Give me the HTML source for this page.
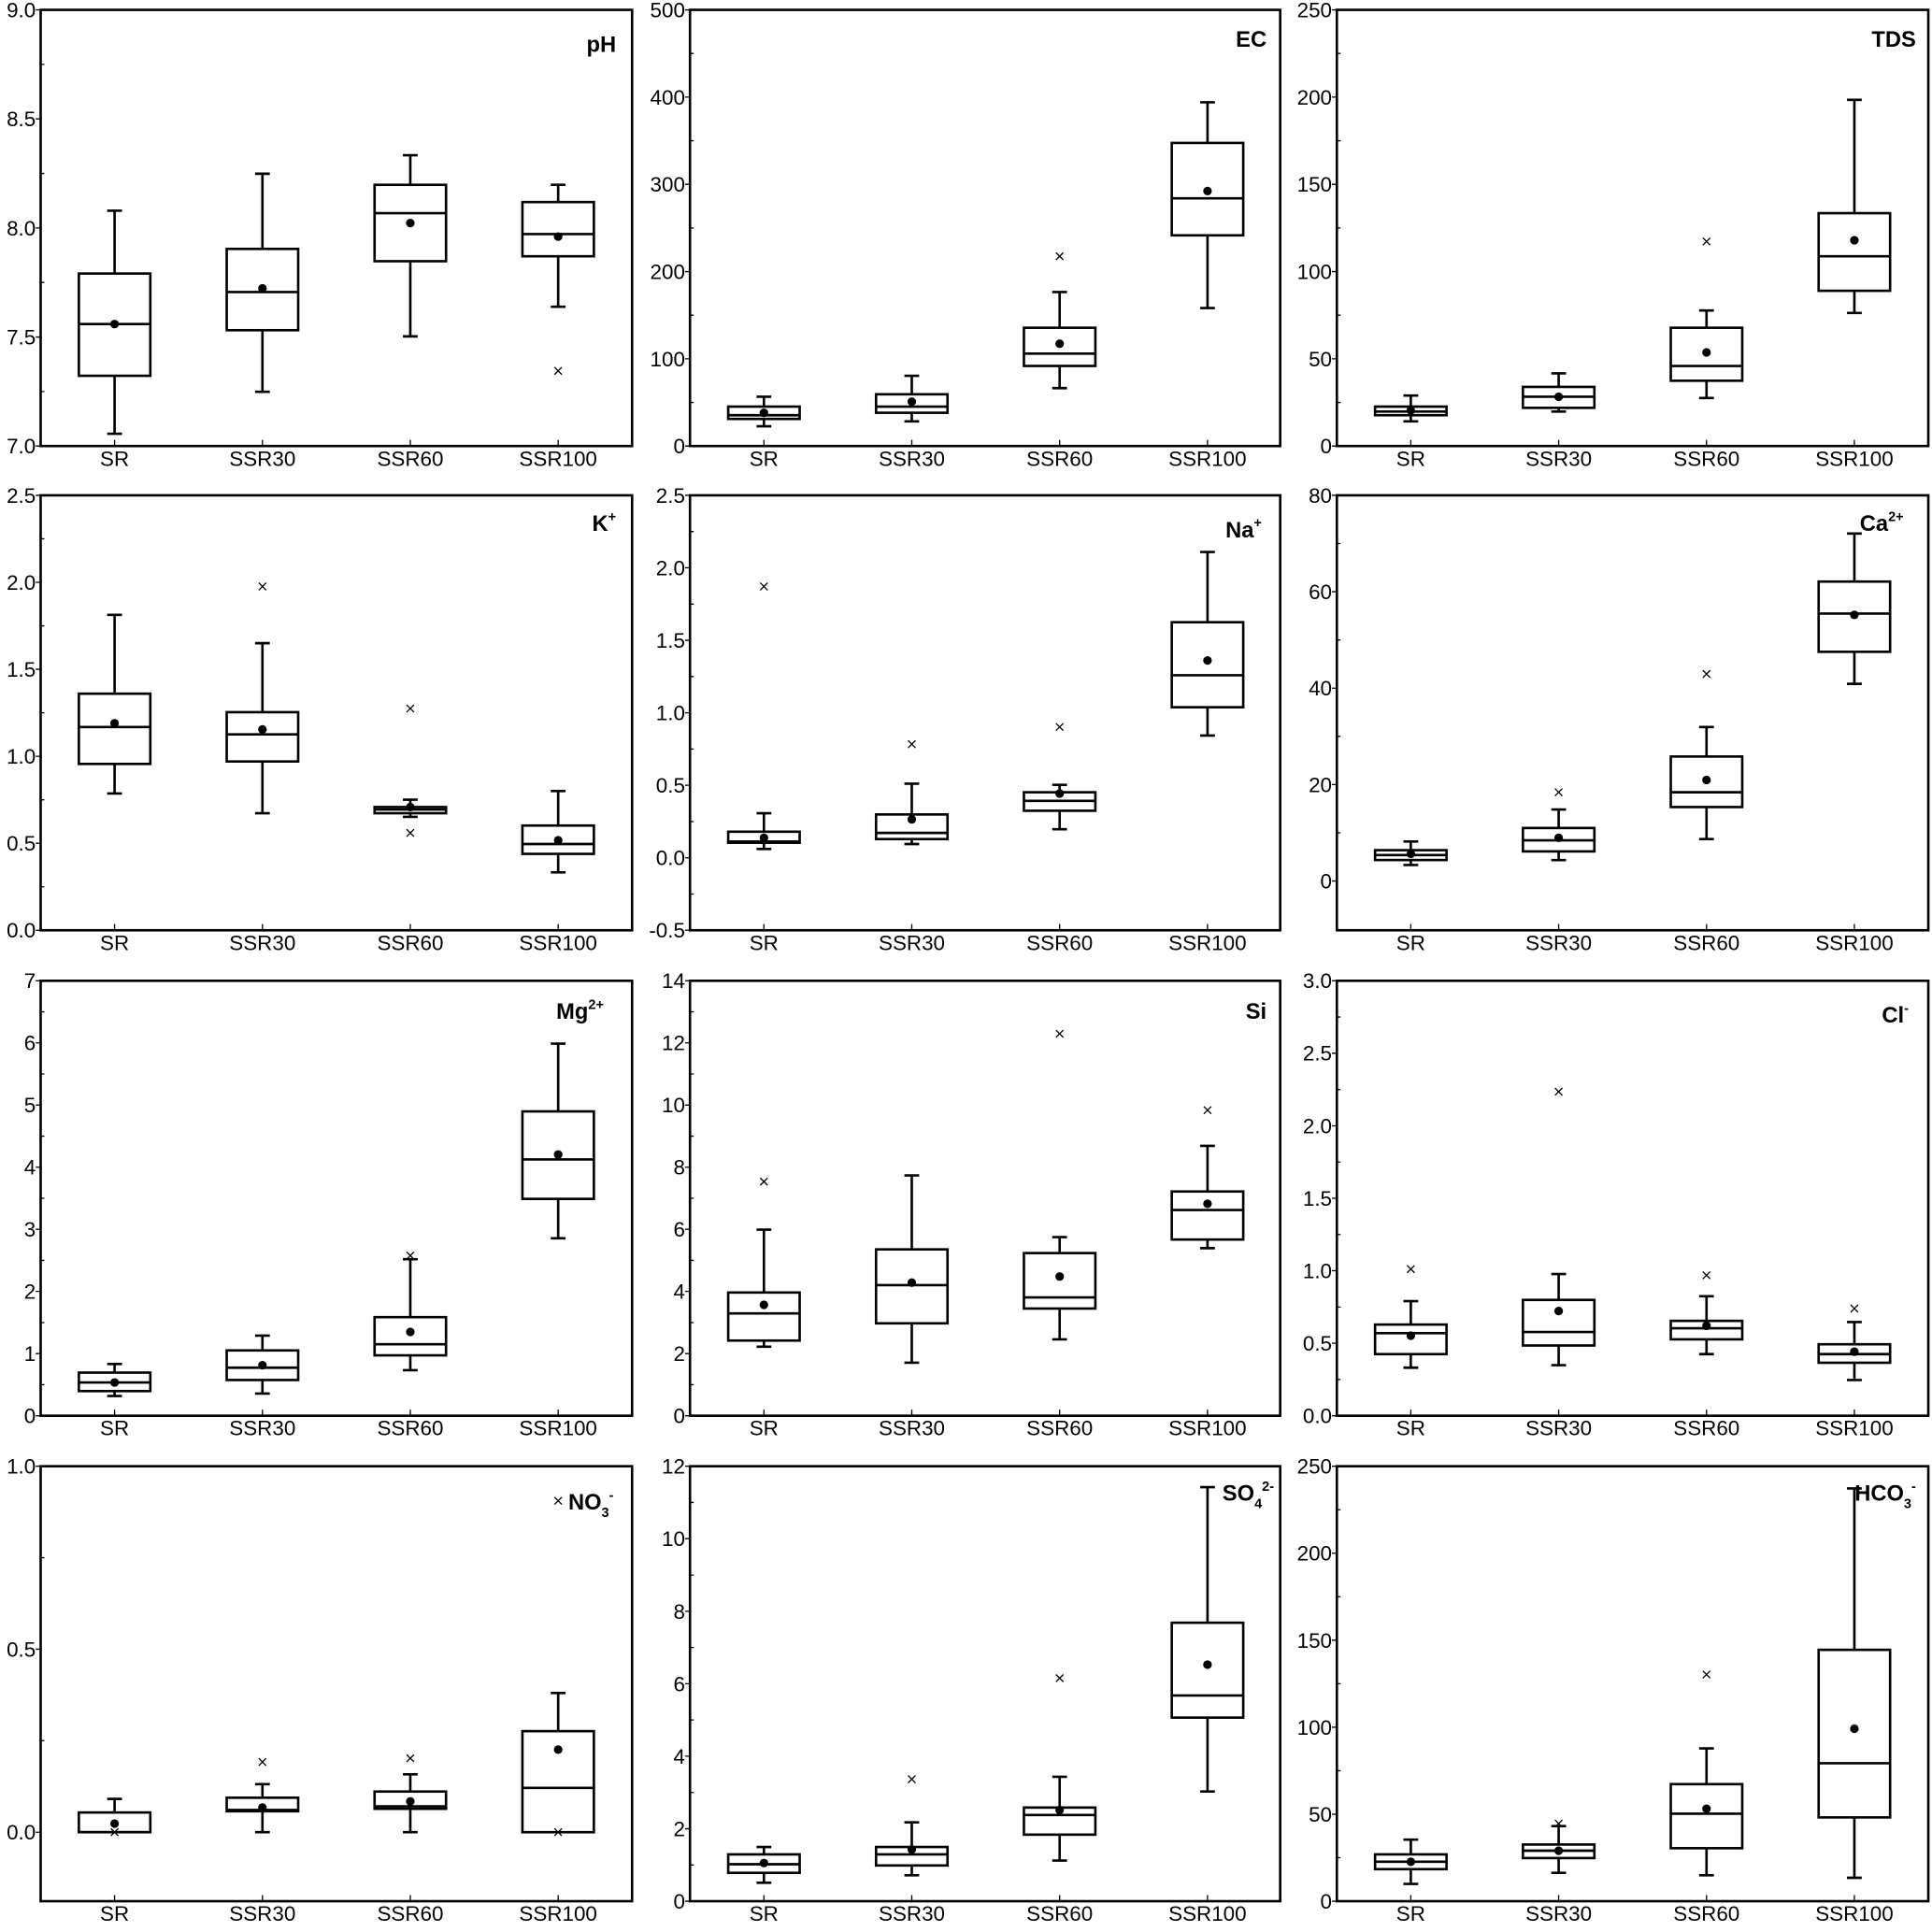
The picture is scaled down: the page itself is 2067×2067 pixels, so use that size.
<!DOCTYPE html>
<html><head><meta charset="utf-8"><style>
html,body{margin:0;padding:0;background:#fff;}
svg{display:block;}
text{font-family:"Liberation Sans",Arial,sans-serif;fill:#000;}
.t{font-size:17px;text-anchor:end;}
.c{font-size:17px;text-anchor:middle;}
.h{font-size:18px;font-weight:bold;text-anchor:end;}
.f{fill:none;stroke:#000;stroke-width:2;}
.b{fill:none;stroke:#000;stroke-width:2;}
.o{stroke:#000;stroke-width:1;fill:none;}
</style></head><body>
<svg width="2067" height="2067" viewBox="0 0 1568 1568" xmlns="http://www.w3.org/2000/svg">
<rect width="1568" height="1568" fill="#fff"/>

<!-- ROW 1 -->
<g transform="translate(33,0)">
<rect class="f" x="0" y="8" width="480" height="354"/>
<path class="o" d="M0 362h-4M0 273.5h-4M0 185h-4M0 96.5h-4M0 8h-4M0 317.75h3M0 229.25h3M0 140.75h3M0 52.25h3M60 362v-5M180 362v-5M300 362v-5M420 362v-5"/>
<text class="t" x="-4" y="368">7.0</text><text class="t" x="-4" y="279.5">7.5</text><text class="t" x="-4" y="191">8.0</text><text class="t" x="-4" y="102.5">8.5</text><text class="t" x="-4" y="14">9.0</text>
<text class="c" x="60" y="378">SR</text><text class="c" x="180" y="378">SSR30</text><text class="c" x="300" y="378">SSR60</text><text class="c" x="420" y="378">SSR100</text>
<text class="h" x="467" y="42">pH</text>
<path class="b" d="M60 352V305M60 222V171M54 352h12M54 171h12M31 263h58 M180 318V268M180 202V141M174 318h12M174 141h12M151 237h58 M300 273V212M300 150V126M294 273h12M294 126h12M271 173h58 M420 249V208M420 164V150M414 249h12M414 150h12M391 190h58"/>
<rect class="b" x="31" y="222" width="58" height="83"/><rect class="b" x="151" y="202" width="58" height="66"/><rect class="b" x="271" y="150" width="58" height="62"/><rect class="b" x="391" y="164" width="58" height="44"/>
<circle cx="60" cy="263" r="3.5"/><circle cx="180" cy="234" r="3.5"/><circle cx="300" cy="181" r="3.5"/><circle cx="420" cy="192" r="3.5"/>
<path class="o" d="M417 298l6 6M423 298l-6 6"/>
</g>

<g transform="translate(560,0)">
<rect class="f" x="0" y="8" width="479" height="354"/>
<path class="o" d="M0 362h-4M0 291.2h-4M0 220.4h-4M0 149.6h-4M0 78.8h-4M0 8h-4M0 326.6h3M0 255.8h3M0 185h3M0 114.2h3M0 43.4h3M60 362v-5M180 362v-5M300 362v-5M420 362v-5"/>
<text class="t" x="-4" y="368">0</text><text class="t" x="-4" y="297.2">100</text><text class="t" x="-4" y="226.4">200</text><text class="t" x="-4" y="155.6">300</text><text class="t" x="-4" y="84.8">400</text><text class="t" x="-4" y="14">500</text>
<text class="c" x="60" y="378">SR</text><text class="c" x="180" y="378">SSR30</text><text class="c" x="300" y="378">SSR60</text><text class="c" x="420" y="378">SSR100</text>
<text class="h" x="468" y="38">EC</text>
<path class="b" d="M60 346V340M60 330V322M54 346h12M54 322h12M31 337h58 M180 342V335M180 320V305M174 342h12M174 305h12M151 330h58 M300 315V297M300 266V237M294 315h12M294 237h12M271 287h58 M420 250V191M420 116V83M414 250h12M414 83h12M391 161h58"/>
<rect class="b" x="31" y="330" width="58" height="10"/><rect class="b" x="151" y="320" width="58" height="15"/><rect class="b" x="271" y="266" width="58" height="31"/><rect class="b" x="391" y="116" width="58" height="75"/>
<circle cx="60" cy="335" r="3.5"/><circle cx="180" cy="326" r="3.5"/><circle cx="300" cy="279" r="3.5"/><circle cx="420" cy="155" r="3.5"/>
<path class="o" d="M297 205l6 6M303 205l-6 6"/>
</g>

<g transform="translate(1085,0)">
<rect class="f" x="0" y="8" width="480" height="354"/>
<path class="o" d="M0 362h-4M0 291.2h-4M0 220.4h-4M0 149.6h-4M0 78.8h-4M0 8h-4M0 326.6h3M0 255.8h3M0 185h3M0 114.2h3M0 43.4h3M60 362v-5M180 362v-5M300 362v-5M420 362v-5"/>
<text class="t" x="-4" y="368">0</text><text class="t" x="-4" y="297.2">50</text><text class="t" x="-4" y="226.4">100</text><text class="t" x="-4" y="155.6">150</text><text class="t" x="-4" y="84.8">200</text><text class="t" x="-4" y="14">250</text>
<text class="c" x="60" y="378">SR</text><text class="c" x="180" y="378">SSR30</text><text class="c" x="300" y="378">SSR60</text><text class="c" x="420" y="378">SSR100</text>
<text class="h" x="470" y="38">TDS</text>
<path class="b" d="M60 342V337M60 330V321M54 342h12M54 321h12M31 334h58 M180 334V331M180 314V303M174 334h12M174 303h12M151 322h58 M300 323V309M300 266V252M294 323h12M294 252h12M271 297h58 M420 254V236M420 173V81M414 254h12M414 81h12M391 208h58"/>
<rect class="b" x="31" y="330" width="58" height="7"/><rect class="b" x="151" y="314" width="58" height="17"/><rect class="b" x="271" y="266" width="58" height="43"/><rect class="b" x="391" y="173" width="58" height="63"/>
<circle cx="60" cy="333" r="3.5"/><circle cx="180" cy="322" r="3.5"/><circle cx="300" cy="286" r="3.5"/><circle cx="420" cy="195" r="3.5"/>
<path class="o" d="M297 193l6 6M303 193l-6 6"/>
</g>

<!-- ROW 2 -->
<g transform="translate(33,0)">
<rect class="f" x="0" y="402" width="480" height="353"/>
<path class="o" d="M0 755h-4M0 684.4h-4M0 613.8h-4M0 543.2h-4M0 472.6h-4M0 402h-4M0 719.7h3M0 649.1h3M0 578.5h3M0 507.9h3M0 437.3h3M60 755v-5M180 755v-5M300 755v-5M420 755v-5"/>
<text class="t" x="-4" y="761">0.0</text><text class="t" x="-4" y="690.4">0.5</text><text class="t" x="-4" y="619.8">1.0</text><text class="t" x="-4" y="549.2">1.5</text><text class="t" x="-4" y="478.6">2.0</text><text class="t" x="-4" y="408">2.5</text>
<text class="c" x="60" y="771">SR</text><text class="c" x="180" y="771">SSR30</text><text class="c" x="300" y="771">SSR60</text><text class="c" x="420" y="771">SSR100</text>
<text class="h" x="467" y="431">K<tspan dy="-8" font-size="11">+</tspan></text>
<path class="b" d="M60 644V620M60 563V499M54 644h12M54 499h12M31 590h58 M180 660V618M180 578V522M174 660h12M174 522h12M151 596h58 M300 663V660M300 655V649M294 663h12M294 649h12M271 657h58 M420 708V693M420 670V642M414 708h12M414 642h12M391 685h58"/>
<rect class="b" x="31" y="563" width="58" height="57"/><rect class="b" x="151" y="578" width="58" height="40"/><rect class="b" x="271" y="655" width="58" height="5"/><rect class="b" x="391" y="670" width="58" height="23"/>
<circle cx="60" cy="587" r="3.5"/><circle cx="180" cy="592" r="3.5"/><circle cx="300" cy="655" r="3.5"/><circle cx="420" cy="682" r="3.5"/>
<path class="o" d="M177 473l6 6M183 473l-6 6M297 572l6 6M303 572l-6 6M297 673l6 6M303 673l-6 6"/>
</g>

<g transform="translate(560,0)">
<rect class="f" x="0" y="402" width="479" height="353"/>
<path class="o" d="M0 755h-4M0 696.2h-4M0 637.3h-4M0 578.5h-4M0 519.7h-4M0 460.8h-4M0 402h-4M0 725.6h3M0 666.8h3M0 607.9h3M0 549.1h3M0 490.3h3M0 431.4h3M60 755v-5M180 755v-5M300 755v-5M420 755v-5"/>
<text class="t" x="-4" y="761">-0.5</text><text class="t" x="-4" y="702.2">0.0</text><text class="t" x="-4" y="643.3">0.5</text><text class="t" x="-4" y="584.5">1.0</text><text class="t" x="-4" y="525.7">1.5</text><text class="t" x="-4" y="466.8">2.0</text><text class="t" x="-4" y="408">2.5</text>
<text class="c" x="60" y="771">SR</text><text class="c" x="180" y="771">SSR30</text><text class="c" x="300" y="771">SSR60</text><text class="c" x="420" y="771">SSR100</text>
<text class="h" x="464" y="436">Na<tspan dy="-8" font-size="11">+</tspan></text>
<path class="b" d="M60 689V684M60 675V660M54 689h12M54 660h12M31 683h58 M180 685V681M180 661V636M174 685h12M174 636h12M151 676h58 M300 673V658M300 643V637M294 673h12M294 637h12M271 650h58 M420 597V574M420 505V448M414 597h12M414 448h12M391 548h58"/>
<rect class="b" x="31" y="675" width="58" height="9"/><rect class="b" x="151" y="661" width="58" height="20"/><rect class="b" x="271" y="643" width="58" height="15"/><rect class="b" x="391" y="505" width="58" height="69"/>
<circle cx="60" cy="680" r="3.5"/><circle cx="180" cy="665" r="3.5"/><circle cx="300" cy="644" r="3.5"/><circle cx="420" cy="536" r="3.5"/>
<path class="o" d="M57 473l6 6M63 473l-6 6M177 601l6 6M183 601l-6 6M297 587l6 6M303 587l-6 6"/>
</g>

<g transform="translate(1085,0)">
<rect class="f" x="0" y="402" width="480" height="353"/>
<path class="o" d="M0 715h-4M0 636.75h-4M0 558.5h-4M0 480.25h-4M0 402h-4M0 675.9h3M0 597.6h3M0 519.4h3M0 441.1h3M60 755v-5M180 755v-5M300 755v-5M420 755v-5"/>
<text class="t" x="-4" y="721">0</text><text class="t" x="-4" y="642.75">20</text><text class="t" x="-4" y="564.5">40</text><text class="t" x="-4" y="486.25">60</text><text class="t" x="-4" y="408">80</text>
<text class="c" x="60" y="771">SR</text><text class="c" x="180" y="771">SSR30</text><text class="c" x="300" y="771">SSR60</text><text class="c" x="420" y="771">SSR100</text>
<text class="h" x="460" y="431">Ca<tspan dy="-8" font-size="11">2+</tspan></text>
<path class="b" d="M60 702V698M60 690V683M54 702h12M54 683h12M31 694h58 M180 698V691M180 672V657M174 698h12M174 657h12M151 682h58 M300 681V655M300 614V590M294 681h12M294 590h12M271 643h58 M420 555V529M420 472V433M414 555h12M414 433h12M391 498h58"/>
<rect class="b" x="31" y="690" width="58" height="8"/><rect class="b" x="151" y="672" width="58" height="19"/><rect class="b" x="271" y="614" width="58" height="41"/><rect class="b" x="391" y="472" width="58" height="57"/>
<circle cx="60" cy="693" r="3.5"/><circle cx="180" cy="680" r="3.5"/><circle cx="300" cy="633" r="3.5"/><circle cx="420" cy="499" r="3.5"/>
<path class="o" d="M177 640l6 6M183 640l-6 6M297 544l6 6M303 544l-6 6"/>
</g>

<!-- ROW 3 -->
<g transform="translate(33,0)">
<rect class="f" x="0" y="796" width="480" height="353"/>
<path class="o" d="M0 1149h-4M0 1098.6h-4M0 1048.1h-4M0 997.7h-4M0 947.3h-4M0 896.9h-4M0 846.4h-4M0 796h-4M0 1123.8h3M0 1073.4h3M0 1022.9h3M0 972.5h3M0 922.1h3M0 871.6h3M0 821.2h3M60 1149v-5M180 1149v-5M300 1149v-5M420 1149v-5"/>
<text class="t" x="-4" y="1155">0</text><text class="t" x="-4" y="1104.6">1</text><text class="t" x="-4" y="1054.1">2</text><text class="t" x="-4" y="1003.7">3</text><text class="t" x="-4" y="953.3">4</text><text class="t" x="-4" y="902.9">5</text><text class="t" x="-4" y="852.4">6</text><text class="t" x="-4" y="802">7</text>
<text class="c" x="60" y="1165">SR</text><text class="c" x="180" y="1165">SSR30</text><text class="c" x="300" y="1165">SSR60</text><text class="c" x="420" y="1165">SSR100</text>
<text class="h" x="457" y="827">Mg<tspan dy="-8" font-size="11">2+</tspan></text>
<path class="b" d="M60 1133V1129M60 1114V1107M54 1133h12M54 1107h12M31 1122h58 M180 1131V1120M180 1096V1084M174 1131h12M174 1084h12M151 1110h58 M300 1112V1100M300 1069V1022M294 1112h12M294 1022h12M271 1091h58 M420 1005V973M420 902V847M414 1005h12M414 847h12M391 941h58"/>
<rect class="b" x="31" y="1114" width="58" height="15"/><rect class="b" x="151" y="1096" width="58" height="24"/><rect class="b" x="271" y="1069" width="58" height="31"/><rect class="b" x="391" y="902" width="58" height="71"/>
<circle cx="60" cy="1122" r="3.5"/><circle cx="180" cy="1108" r="3.5"/><circle cx="300" cy="1081" r="3.5"/><circle cx="420" cy="937" r="3.5"/>
<path class="o" d="M297 1016l6 6M303 1016l-6 6"/>
</g>

<g transform="translate(560,0)">
<rect class="f" x="0" y="796" width="479" height="353"/>
<path class="o" d="M0 1149h-4M0 1098.6h-4M0 1048.1h-4M0 997.7h-4M0 947.3h-4M0 896.9h-4M0 846.4h-4M0 796h-4M0 1123.8h3M0 1073.4h3M0 1022.9h3M0 972.5h3M0 922.1h3M0 871.6h3M0 821.2h3M60 1149v-5M180 1149v-5M300 1149v-5M420 1149v-5"/>
<text class="t" x="-4" y="1155">0</text><text class="t" x="-4" y="1104.6">2</text><text class="t" x="-4" y="1054.1">4</text><text class="t" x="-4" y="1003.7">6</text><text class="t" x="-4" y="953.3">8</text><text class="t" x="-4" y="902.9">10</text><text class="t" x="-4" y="852.4">12</text><text class="t" x="-4" y="802">14</text>
<text class="c" x="60" y="1165">SR</text><text class="c" x="180" y="1165">SSR30</text><text class="c" x="300" y="1165">SSR60</text><text class="c" x="420" y="1165">SSR100</text>
<text class="h" x="468" y="827">Si</text>
<path class="b" d="M60 1093V1088M60 1049V998M54 1093h12M54 998h12M31 1066h58 M180 1106V1074M180 1014V954M174 1106h12M174 954h12M151 1043h58 M300 1087V1062M300 1017V1004M294 1087h12M294 1004h12M271 1053h58 M420 1013V1006M420 967V930M414 1013h12M414 930h12M391 982h58"/>
<rect class="b" x="31" y="1049" width="58" height="39"/><rect class="b" x="151" y="1014" width="58" height="60"/><rect class="b" x="271" y="1017" width="58" height="45"/><rect class="b" x="391" y="967" width="58" height="39"/>
<circle cx="60" cy="1059" r="3.5"/><circle cx="180" cy="1041" r="3.5"/><circle cx="300" cy="1036" r="3.5"/><circle cx="420" cy="977" r="3.5"/>
<path class="o" d="M57 956l6 6M63 956l-6 6M297 836l6 6M303 836l-6 6M417 898l6 6M423 898l-6 6"/>
</g>

<g transform="translate(1085,0)">
<rect class="f" x="0" y="796" width="480" height="353"/>
<path class="o" d="M0 1149h-4M0 1090.2h-4M0 1031.3h-4M0 972.5h-4M0 913.7h-4M0 854.8h-4M0 796h-4M0 1119.6h3M0 1060.8h3M0 1001.9h3M0 943.1h3M0 884.3h3M0 825.4h3M60 1149v-5M180 1149v-5M300 1149v-5M420 1149v-5"/>
<text class="t" x="-4" y="1155">0.0</text><text class="t" x="-4" y="1096.2">0.5</text><text class="t" x="-4" y="1037.3">1.0</text><text class="t" x="-4" y="978.5">1.5</text><text class="t" x="-4" y="919.7">2.0</text><text class="t" x="-4" y="860.8">2.5</text><text class="t" x="-4" y="802">3.0</text>
<text class="c" x="60" y="1165">SR</text><text class="c" x="180" y="1165">SSR30</text><text class="c" x="300" y="1165">SSR60</text><text class="c" x="420" y="1165">SSR100</text>
<text class="h" x="464" y="830">Cl<tspan dy="-8" font-size="11">-</tspan></text>
<path class="b" d="M60 1110V1099M60 1075V1056M54 1110h12M54 1056h12M31 1082h58 M180 1108V1092M180 1055V1034M174 1108h12M174 1034h12M151 1081h58 M300 1099V1087M300 1072V1052M294 1099h12M294 1052h12M271 1078h58 M420 1120V1106M420 1091V1073M414 1120h12M414 1073h12M391 1099h58"/>
<rect class="b" x="31" y="1075" width="58" height="24"/><rect class="b" x="151" y="1055" width="58" height="37"/><rect class="b" x="271" y="1072" width="58" height="15"/><rect class="b" x="391" y="1091" width="58" height="15"/>
<circle cx="60" cy="1084" r="3.5"/><circle cx="180" cy="1064" r="3.5"/><circle cx="300" cy="1076" r="3.5"/><circle cx="420" cy="1097" r="3.5"/>
<path class="o" d="M57 1027l6 6M63 1027l-6 6M177 883l6 6M183 883l-6 6M297 1032l6 6M303 1032l-6 6M417 1059l6 6M423 1059l-6 6"/>
</g>

<!-- ROW 4 -->
<g transform="translate(33,0)">
<rect class="f" x="0" y="1190" width="480" height="353"/>
<path class="o" d="M0 1487h-4M0 1338.5h-4M0 1190h-4M0 1412.75h3M0 1264.25h3M60 1543v-5M180 1543v-5M300 1543v-5M420 1543v-5"/>
<text class="t" x="-4" y="1493">0.0</text><text class="t" x="-4" y="1344.5">0.5</text><text class="t" x="-4" y="1196">1.0</text>
<text class="c" x="60" y="1559">SR</text><text class="c" x="180" y="1559">SSR30</text><text class="c" x="300" y="1559">SSR60</text><text class="c" x="420" y="1559">SSR100</text>
<text class="h" x="465" y="1225">NO<tspan dy="6" font-size="11">3</tspan><tspan dy="-14" font-size="11">-</tspan></text>
<path class="b" d="M60 1471V1460M54 1460h12M31 1487h58 M180 1487V1470M180 1459V1448M174 1487h12M174 1448h12M151 1469h58 M300 1487V1468M300 1454V1440M294 1487h12M294 1440h12M271 1466h58 M420 1405V1374M414 1374h12M391 1451h58"/>
<rect class="b" x="31" y="1471" width="58" height="16"/><rect class="b" x="151" y="1459" width="58" height="11"/><rect class="b" x="271" y="1454" width="58" height="14"/><rect class="b" x="391" y="1405" width="58" height="82"/>
<circle cx="60" cy="1480" r="3.5"/><circle cx="180" cy="1467" r="3.5"/><circle cx="300" cy="1462" r="3.5"/><circle cx="420" cy="1420" r="3.5"/>
<path class="o" d="M177 1427l6 6M183 1427l-6 6M297 1424l6 6M303 1424l-6 6M417 1215l6 6M423 1215l-6 6M417 1484l6 6M423 1484l-6 6M57 1484l6 6M63 1484l-6 6"/>
</g>

<g transform="translate(560,0)">
<rect class="f" x="0" y="1190" width="479" height="353"/>
<path class="o" d="M0 1543h-4M0 1484.2h-4M0 1425.3h-4M0 1366.5h-4M0 1307.7h-4M0 1248.8h-4M0 1190h-4M0 1513.6h3M0 1454.8h3M0 1395.9h3M0 1337.1h3M0 1278.3h3M0 1219.4h3M60 1543v-5M180 1543v-5M300 1543v-5M420 1543v-5"/>
<text class="t" x="-4" y="1549">0</text><text class="t" x="-4" y="1490.2">2</text><text class="t" x="-4" y="1431.3">4</text><text class="t" x="-4" y="1372.5">6</text><text class="t" x="-4" y="1313.7">8</text><text class="t" x="-4" y="1254.8">10</text><text class="t" x="-4" y="1196">12</text>
<text class="c" x="60" y="1559">SR</text><text class="c" x="180" y="1559">SSR30</text><text class="c" x="300" y="1559">SSR60</text><text class="c" x="420" y="1559">SSR100</text>
<text class="h" x="474" y="1218">SO<tspan dy="6" font-size="11">4</tspan><tspan dy="-14" font-size="11">2-</tspan></text>
<path class="b" d="M60 1528V1520M60 1505V1499M54 1528h12M54 1499h12M31 1513h58 M180 1522V1514M180 1499V1479M174 1522h12M174 1479h12M151 1505h58 M300 1510V1489M300 1467V1442M294 1510h12M294 1442h12M271 1473h58 M420 1454V1394M420 1317V1207M414 1454h12M414 1207h12M391 1376h58"/>
<rect class="b" x="31" y="1505" width="58" height="15"/><rect class="b" x="151" y="1499" width="58" height="15"/><rect class="b" x="271" y="1467" width="58" height="22"/><rect class="b" x="391" y="1317" width="58" height="77"/>
<circle cx="60" cy="1512" r="3.5"/><circle cx="180" cy="1501" r="3.5"/><circle cx="300" cy="1469" r="3.5"/><circle cx="420" cy="1351" r="3.5"/>
<path class="o" d="M177 1441l6 6M183 1441l-6 6M297 1359l6 6M303 1359l-6 6"/>
</g>

<g transform="translate(1085,0)">
<rect class="f" x="0" y="1190" width="480" height="353"/>
<path class="o" d="M0 1543h-4M0 1472.4h-4M0 1401.8h-4M0 1331.2h-4M0 1260.6h-4M0 1190h-4M0 1507.7h3M0 1437.1h3M0 1366.5h3M0 1295.9h3M0 1225.3h3M60 1543v-5M180 1543v-5M300 1543v-5M420 1543v-5"/>
<text class="t" x="-4" y="1549">0</text><text class="t" x="-4" y="1478.4">50</text><text class="t" x="-4" y="1407.8">100</text><text class="t" x="-4" y="1337.2">150</text><text class="t" x="-4" y="1266.6">200</text><text class="t" x="-4" y="1196">250</text>
<text class="c" x="60" y="1559">SR</text><text class="c" x="180" y="1559">SSR30</text><text class="c" x="300" y="1559">SSR60</text><text class="c" x="420" y="1559">SSR100</text>
<text class="h" x="470" y="1218">HCO<tspan dy="6" font-size="11">3</tspan><tspan dy="-14" font-size="11">-</tspan></text>
<path class="b" d="M60 1529V1517M60 1505V1493M54 1529h12M54 1493h12M31 1511h58 M180 1520V1508M180 1497V1482M174 1520h12M174 1482h12M151 1502h58 M300 1522V1500M300 1448V1419M294 1522h12M294 1419h12M271 1472h58 M420 1524V1475M420 1339V1208M414 1524h12M414 1208h12M391 1431h58"/>
<rect class="b" x="31" y="1505" width="58" height="12"/><rect class="b" x="151" y="1497" width="58" height="11"/><rect class="b" x="271" y="1448" width="58" height="52"/><rect class="b" x="391" y="1339" width="58" height="136"/>
<circle cx="60" cy="1511" r="3.5"/><circle cx="180" cy="1502" r="3.5"/><circle cx="300" cy="1468" r="3.5"/><circle cx="420" cy="1403" r="3.5"/>
<path class="o" d="M177 1477l6 6M183 1477l-6 6M297 1356l6 6M303 1356l-6 6"/>
</g>
</svg>
</body></html>
